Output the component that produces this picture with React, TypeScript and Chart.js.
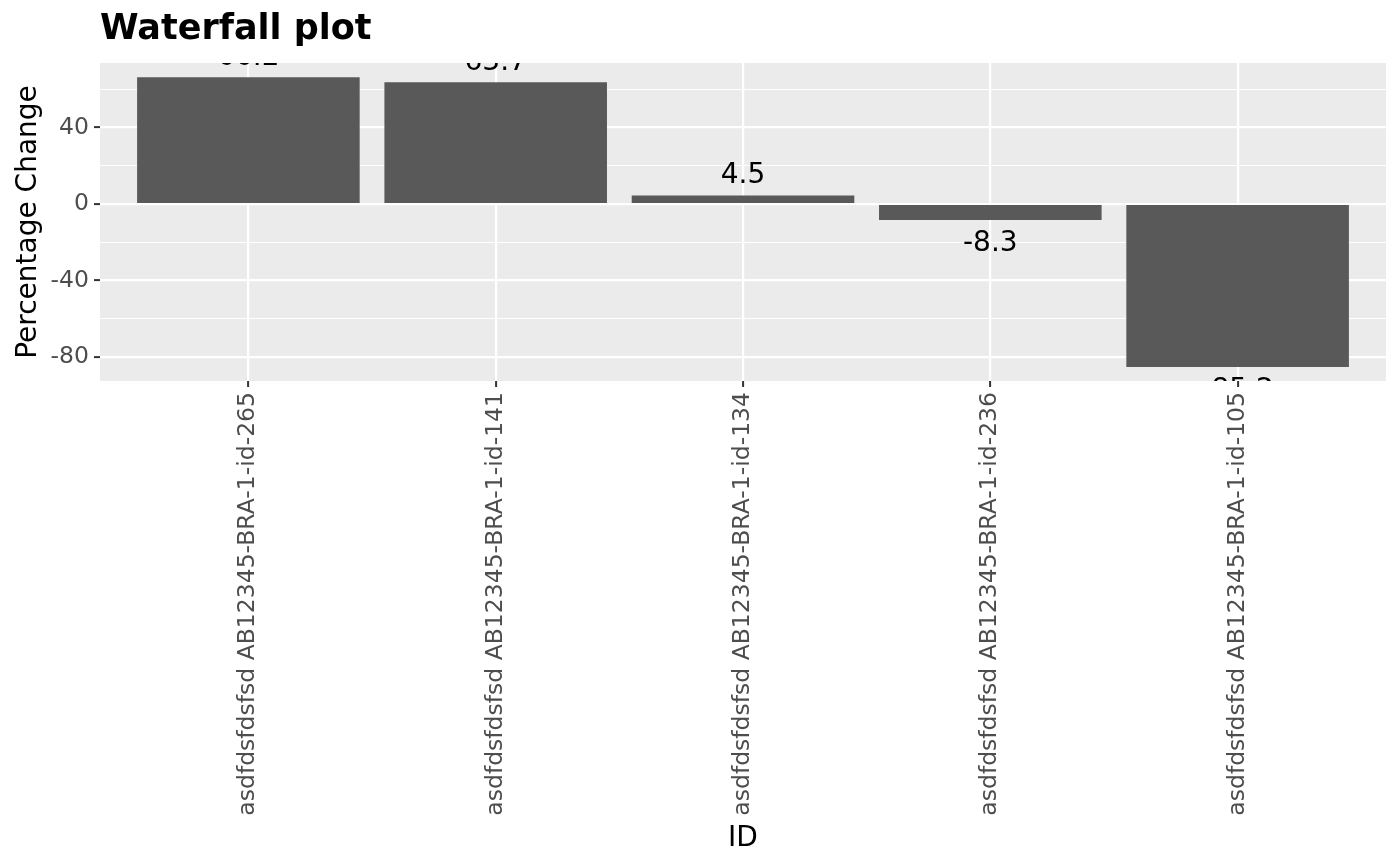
import { useEffect, useRef } from "react";
import { Chart, registerables, type Plugin } from "chart.js";

Chart.register(...registerables);

const IDS = [
  "asdfdsfdsfsd AB12345-BRA-1-id-265",
  "asdfdsfdsfsd AB12345-BRA-1-id-141",
  "asdfdsfdsfsd AB12345-BRA-1-id-134",
  "asdfdsfdsfsd AB12345-BRA-1-id-236",
  "asdfdsfdsfsd AB12345-BRA-1-id-105",
];
const CHANGE = [66.2, 63.7, 4.5, -8.3, -85.2];
const Y_TICKS = [-80, -40, 0, 40];

const FONT = "'DejaVu Sans', sans-serif";

// grey panel behind the grid, like ggplot's theme_grey
const panelBg: Plugin = {
  id: "panelBg",
  beforeDraw(chart) {
    const { ctx, chartArea: a } = chart;
    ctx.save();
    ctx.fillStyle = "#EBEBEB";
    ctx.fillRect(a.left, a.top, a.right - a.left, a.bottom - a.top);
    ctx.restore();
  },
};

// value labels (clipped by the panel) plus titles
const texts: Plugin = {
  id: "texts",
  afterDatasetsDraw(chart) {
    const { ctx, chartArea: a } = chart;
    const meta = chart.getDatasetMeta(0);
    ctx.save();
    ctx.beginPath();
    ctx.rect(a.left, a.top, a.right - a.left, a.bottom - a.top);
    ctx.clip();
    ctx.fillStyle = "#000";
    ctx.font = `28px ${FONT}`;
    ctx.textAlign = "center";
    ctx.textBaseline = "alphabetic";
    meta.data.forEach((bar: any, i) => {
      const v = CHANGE[i];
      const y = v >= 0 ? bar.y - 12 : bar.y + 31;
      ctx.fillText(v.toFixed(1), bar.x, y);
    });
    ctx.restore();
  },
  afterDraw(chart) {
    const { ctx, chartArea: a } = chart;
    ctx.save();
    ctx.fillStyle = "#000";
    ctx.textBaseline = "alphabetic";
    ctx.font = `bold 35px ${FONT}`;
    ctx.textAlign = "left";
    ctx.fillText("Waterfall plot", a.left, 39);
    ctx.font = `28px ${FONT}`;
    ctx.textAlign = "center";
    ctx.fillText("ID", (a.left + a.right) / 2, 846);
    ctx.translate(36, (a.top + a.bottom) / 2);
    ctx.rotate(-Math.PI / 2);
    ctx.fillText("Percentage Change", 0, 0);
    ctx.restore();
  },
};

export default function App() {
  const canvasRef = useRef<HTMLCanvasElement>(null);

  useEffect(() => {
    document.body.style.margin = "0";
    if (!canvasRef.current) return;
    const chart = new Chart(canvasRef.current, {
      type: "bar",
      data: {
        datasets: [
          {
            data: CHANGE.map((v, i) => ({ x: i + 1, y: v })),
            backgroundColor: "#595959",
            borderWidth: 0,
            barPercentage: 0.9,
            categoryPercentage: 1,
          },
        ],
      },
      options: {
        responsive: false,
        animation: false,
        devicePixelRatio: 1,
        layout: { padding: { top: 63, right: 14, left: 0, bottom: 0 } },
        plugins: {
          legend: { display: false },
          tooltip: { enabled: false },
          title: { display: false },
        },
        scales: {
          x: {
            type: "linear",
            offset: false,
            min: 0.4,
            max: 5.6,
            afterBuildTicks: (s: any) => {
              s.ticks = IDS.map((_, i) => ({ value: i + 1 }));
            },
            afterFit: (s: any) => {
              s.height = 485;
            },
            border: { display: false },
            grid: {
              offset: false,
              color: "#FFFFFF",
              lineWidth: 2.2,
              tickColor: "#333333",
              tickLength: 6,
              tickWidth: 2,
            },
            ticks: {
              autoSkip: false,
              minRotation: 90,
              maxRotation: 90,
              padding: 5,
              color: "#4D4D4D",
              font: { family: FONT, size: 23.5 },
              callback: (v: any) => IDS[Number(v) - 1] ?? "",
            },
          },
          y: {
            min: -92.5,
            max: 73.7,
            afterFit: (s: any) => {
              s.width = 100;
            },
            border: { display: false },
            grid: {
              color: "#FFFFFF",
              lineWidth: (c: any) => (Y_TICKS.includes(c.tick?.value) ? 2.2 : 1.1),
              tickColor: (c: any) =>
                Y_TICKS.includes(c.tick?.value) ? "#333333" : "rgba(0,0,0,0)",
              tickLength: 6,
              tickWidth: 2,
            },
            ticks: {
              stepSize: 20,
              includeBounds: false,
              padding: 5,
              color: "#4D4D4D",
              font: { family: FONT, size: 23.5 },
              callback: (v: any) => (Y_TICKS.includes(Number(v)) ? String(v) : ""),
            },
          },
        },
      },
      plugins: [panelBg, texts],
    });
    return () => chart.destroy();
  }, []);

  return (
    <div style={{ width: 1400, height: 866, background: "#fff" }}>
      <canvas ref={canvasRef} width={1400} height={866} />
    </div>
  );
}
